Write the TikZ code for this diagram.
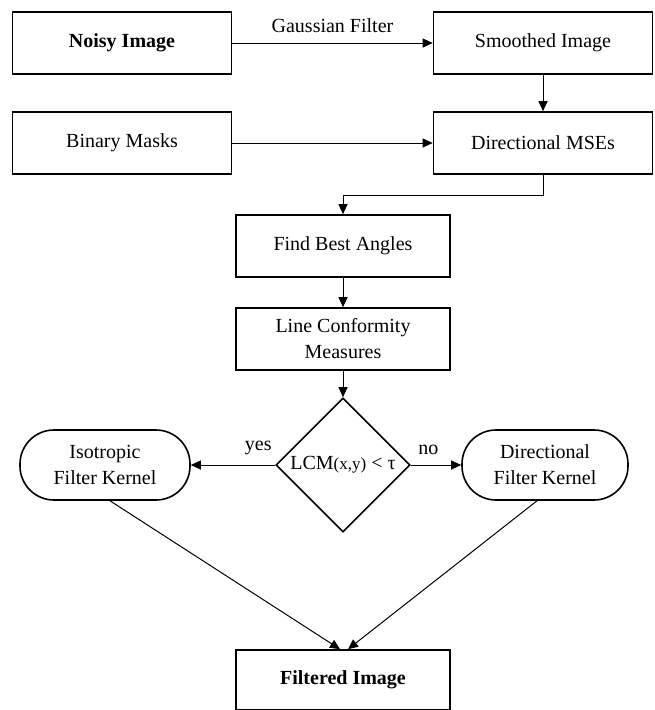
\documentclass[tikz,border=0pt]{standalone}
\usepackage{fontspec}
\setmainfont{Liberation Serif}
\usetikzlibrary{shapes.geometric,arrows.meta}
\tikzset{
    procbox/.style={draw, line width=1.6pt, minimum width=219pt, minimum height=62pt, align=center, inner sep=2pt},
    kernbox/.style={draw, line width=1.6pt, rounded corners=34pt, minimum width=170pt, minimum height=70pt, align=center},
    decbox/.style={draw, diamond, aspect=1, line width=1.6pt, minimum size=134pt, inner sep=-1pt},
    flow/.style={-{Triangle[length=10pt,width=9pt]}, line width=1pt},
}
\begin{document}
\begin{tikzpicture}[x=1pt, y=-1pt, font=\fontsize{20}{26}\selectfont]
    \useasboundingbox (0,0) rectangle (654,710);
    % boxes
    \node[procbox] (noisy) at (122,43) {\bfseries Noisy Image};
    \node[procbox] (smooth) at (543,43) {Smoothed Image};
    \node[procbox] (masks) at (122,143) {Binary Masks};
    \node[procbox] (dmse) at (543,143) {Directional MSEs};
    \node[procbox, minimum width=214pt] (best) at (343,246) {Find Best Angles};
    \node[procbox, minimum width=214pt] (lcm) at (343,339) {Line Conformity\\Measures};
    \node[decbox] (dec) at (343,465) {LCM{\fontsize{17}{19}\selectfont(x,y)} < τ};
    \node[kernbox] (iso) at (105,465) {Isotropic\\Filter Kernel};
    \node[kernbox, minimum width=166pt] (dirk) at (545,465) {Directional\\Filter Kernel};
    \node[procbox, minimum width=214pt, minimum height=60pt] (filt) at (343,680) {\bfseries Filtered Image};
    % connectors
    \draw[flow] (noisy) -- node[midway, above=6pt] {Gaussian Filter} (smooth);
    \draw[flow] (smooth) -- (dmse);
    \draw[flow] (masks) -- (dmse);
    \draw[flow] (dmse.south) -- ++(0,21) -| (best.north);
    \draw[flow] (best) -- (lcm);
    \draw[flow] (lcm) -- (dec);
    \draw[flow] (dec.west) -- node[pos=0.2, above=6pt] {yes} (iso.east);
    \draw[flow] (dec.east) -- node[pos=0.35, above=6pt] {no} (dirk.west);
    \draw[flow] ([xshift=5pt]iso.south) -- ([xshift=-3pt]filt.north);
    \draw[flow] ([xshift=-8pt]dirk.south) -- ([xshift=5pt]filt.north);
\end{tikzpicture}
\end{document}
